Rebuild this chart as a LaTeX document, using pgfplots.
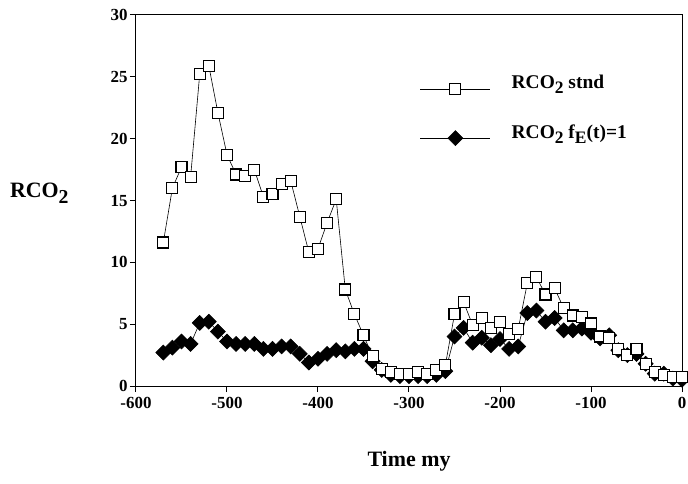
\documentclass[border=0pt]{standalone}
\usepackage{pgfplots}
\pgfplotsset{compat=1.18}
\usepackage{fontspec}
\setmainfont{Liberation Serif}
\newcommand\sub[1]{\raisebox{-0.55ex}{\scalebox{0.9}{#1}}}
\pgfplotstableread{
x y
-570 11.6
-560 16.0
-550 17.7
-540 16.9
-530 25.2
-520 25.9
-510 22.1
-500 18.7
-490 17.1
-480 17.0
-470 17.5
-460 15.3
-450 15.5
-440 16.3
-430 16.6
-420 13.7
-410 10.8
-400 11.1
-390 13.2
-380 15.1
-370 7.8
-360 5.8
-350 4.1
-340 2.4
-330 1.4
-320 1.1
-310 1.0
-300 1.0
-290 1.1
-280 1.0
-270 1.3
-260 1.7
-250 5.8
-240 6.8
-230 4.9
-220 5.5
-210 4.7
-200 5.2
-190 4.2
-180 4.6
-170 8.3
-160 8.8
-150 7.4
-140 7.9
-130 6.3
-120 5.7
-110 5.6
-100 5.05
-90 4.0
-80 3.9
-70 3.0
-60 2.5
-50 3.0
-40 1.8
-30 1.1
-20 0.9
-10 0.7
0 0.7
}\stnd
\pgfplotstableread{
x y
-570 2.7
-560 3.1
-550 3.6
-540 3.4
-530 5.1
-520 5.2
-510 4.4
-500 3.6
-490 3.4
-480 3.4
-470 3.4
-460 3.0
-450 3.0
-440 3.2
-430 3.2
-420 2.6
-410 1.9
-400 2.2
-390 2.6
-380 2.9
-370 2.8
-360 3.0
-350 3.0
-340 2.0
-330 1.3
-320 0.9
-310 0.8
-300 0.8
-290 0.8
-280 0.8
-270 0.9
-260 1.2
-250 4.0
-240 4.7
-230 3.5
-220 3.9
-210 3.3
-200 3.8
-190 3.0
-180 3.2
-170 5.9
-160 6.1
-150 5.2
-140 5.5
-130 4.5
-120 4.5
-110 4.65
-100 4.3
-90 3.85
-80 4.1
-70 2.9
-60 2.5
-50 2.6
-40 1.8
-30 1.0
-20 1.0
-10 0.6
0 0.5
}\fone
\begin{document}
\begin{tikzpicture}
\useasboundingbox (-136bp,-98bp) rectangle (552bp,386bp);
\begin{axis}[
  at={(0,0)}, anchor=south west, scale only axis,
  width=546bp, height=371bp,
  xmin=-600, xmax=0, ymin=0, ymax=30,
  xtick={-600,-500,...,0}, ytick={0,5,...,30},
  tick align=outside, tick pos=left, major tick length=6bp,
  axis line style={line width=1bp},
  every tick/.style={line width=1bp, black},
  ticklabel style={font=\bfseries\fontsize{17}{17}\selectfont},
  yticklabel style={xshift=1bp},
  xticklabel style={yshift=-1.5bp},
  /pgf/number format/assume math mode=true,
  clip=false,
  xlabel={Time my},
  xlabel style={at={(axis description cs:0.5,-0.203)}, anchor=center, font=\bfseries\fontsize{22}{22}\selectfont},
  reverse legend,
  legend cell align=left,
  legend style={draw=none, fill=none, at={(0.52,0.843)}, anchor=north west,
    inner sep=0pt, row sep=28bp,
    font=\bfseries\fontsize{19.5}{19.5}\selectfont,
    nodes={inner sep=2bp, anchor=base west}},
  legend image code/.code={\draw[mark repeat=2,mark phase=2,#1] plot coordinates {(0bp,0bp) (35bp,0bp) (70bp,0bp)};},
]
\addplot[black, line width=0.6bp, mark=square*, mark size=5.3bp,
  mark options={fill=black, rotate=45, line width=0.6bp}] table {\fone};
\addlegendentry{\hspace{19bp}RCO\sub{2} f\sub{E}(t)=1}
\addplot[black, line width=0.6bp, mark=square*, mark size=5.5bp,
  mark options={fill=white, line width=1.1bp}] table {\stnd};
\addlegendentry{\hspace{19bp}RCO\sub{2} stnd}
\node[anchor=base east, font=\bfseries\fontsize{22}{22}\selectfont] at (axis description cs:-0.117,0.507) {RCO\sub{2}};
\end{axis}
\end{tikzpicture}
\end{document}
